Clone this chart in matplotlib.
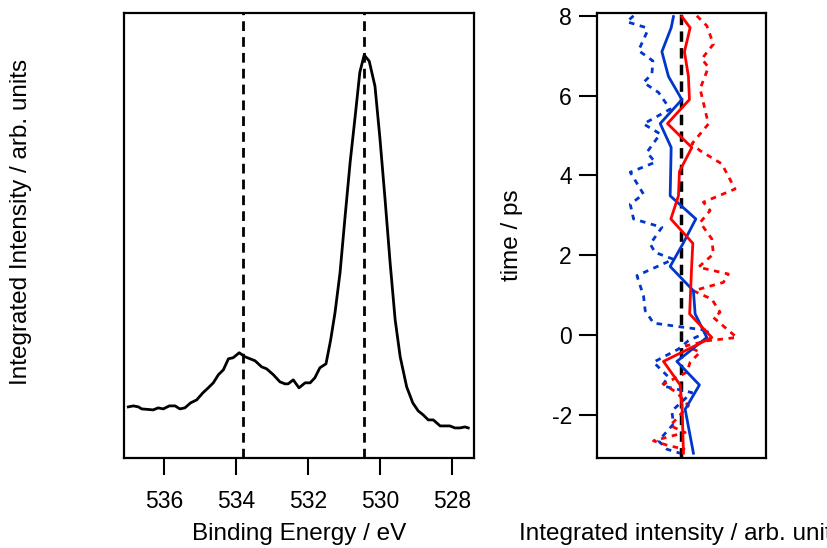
import numpy as np
import matplotlib.pyplot as plt

plt.rcParams['font.family'] = ['Liberation Sans', 'DejaVu Sans']
plt.rcParams['axes.unicode_minus'] = False

# --- XPS spectrum (left panel) ---
binding_energy = [536.99, 536.85, 536.71, 536.62, 536.30, 536.16, 536.02, 535.85, 535.69,
                  535.56, 535.42, 535.26, 535.09, 534.92, 534.77, 534.63, 534.49, 534.35,
                  534.21, 534.08, 533.91, 533.75, 533.47, 533.29, 533.15, 532.96, 532.78,
                  532.64, 532.55, 532.41, 532.25, 532.08, 531.94, 531.81, 531.67, 531.50,
                  531.37, 531.25, 531.11, 530.97, 530.83, 530.69, 530.56, 530.44, 530.30,
                  530.14, 530.00, 529.86, 529.72, 529.58, 529.44, 529.26, 529.09, 528.94,
                  528.80, 528.66, 528.52, 528.33, 528.06, 527.92, 527.78, 527.64, 527.55]
intensity = [0.51, 0.52, 0.51, 0.49, 0.48, 0.50, 0.49, 0.52, 0.52,
             0.49, 0.50, 0.55, 0.58, 0.65, 0.70, 0.75, 0.83, 0.88,
             0.99, 1.00, 1.05, 1.01, 0.97, 0.91, 0.89, 0.83, 0.76,
             0.74, 0.74, 0.78, 0.70, 0.75, 0.75, 0.80, 0.90, 0.94,
             1.18, 1.45, 1.85, 2.41, 2.95, 3.41, 3.85, 4.02, 3.96,
             3.71, 3.18, 2.58, 1.95, 1.38, 1.01, 0.71, 0.55, 0.47,
             0.43, 0.38, 0.38, 0.32, 0.32, 0.30, 0.30, 0.31, 0.30]
peak_positions = [533.8, 530.45]

# --- time traces (right panel) ---
t_solid = [7.98, 7.70, 7.10, 6.48, 5.90, 5.30, 4.70, 4.10, 3.49, 2.91, 2.30, 1.72,
           1.11, 0.53, -0.06, -0.66, -1.25, -1.86, -2.96]
blue_solid = [-0.074, -0.097, -0.19, -0.124, 0.01, -0.207, -0.097, -0.102, -0.107, 0.15,
              0.023, -0.107, 0.126, 0.143, 0.26, -0.04, 0.186, 0.043, 0.126]
red_solid = [0.01, 0.093, 0.036, 0.076, 0.086, -0.134, 0.11, -0.014, -0.024, -0.10,
             0.12, 0.108, 0.098, 0.088, 0.31, -0.174, -0.007, 0.013, 0.026]

t_blue_dot = [8.00, 7.85, 7.71, 7.59, 7.13, 6.87, 6.54, 6.33, 6.08, 5.66, 5.29, 5.04,
              4.58, 4.33, 4.08, 3.53, 3.28, 2.91, 2.70, 2.28, 2.07, 1.90, 1.49, 0.98,
              0.61, 0.30, 0.19, 0.11, -0.14, -0.35, -0.68, -1.05, -1.27, -1.44, -1.90,
              -2.23, -2.65, -2.86, -2.96]
blue_dot = [-0.474, -0.54, -0.357, -0.34, -0.424, -0.28, -0.29, -0.374, -0.224, -0.107,
            -0.374, -0.207, -0.34, -0.257, -0.507, -0.374, -0.507, -0.474, -0.19, -0.307,
            -0.257, -0.074, -0.44, -0.374, -0.357, -0.274, 0.043, 0.293, 0.076, -0.024,
            -0.274, -0.124, -0.19, 0.11, -0.09, -0.074, -0.224, -0.14, -0.007]

t_red_dot = [8.00, 7.75, 7.29, 6.92, 6.71, 6.17, 5.29, 4.79, 4.62, 4.29, 3.66, 3.33,
             3.12, 2.82, 2.53, 2.41, 2.03, 1.70, 1.53, 1.32, 1.11, 0.90, 0.57, 0.44,
             -0.06, -0.14, -0.27, -0.43, -0.68, -0.93, -1.23, -1.44, -1.77, -2.27,
             -2.44, -2.65, -2.77, -2.86]
red_dot = [0.16, 0.26, 0.326, 0.21, 0.276, 0.193, 0.276, 0.11, 0.193, 0.41, 0.543, 0.226,
           0.293, 0.193, 0.276, 0.31, 0.326, 0.176, 0.476, 0.426, 0.126, 0.31, 0.393, 0.326,
           0.56, 0.273, 0.053, 0.193, 0.093, 0.06, -0.174, -0.04, 0.076, -0.107,
           0.043, -0.274, -0.124, 0.043]

blue = '#0036cc'
red = '#ff0000'

fig = plt.figure(figsize=(8.28, 5.48), dpi=100)
ax1 = fig.add_axes([124/828, 90/548, 350/828, 445/548])
ax2 = fig.add_axes([597/828, 90/548, 169/828, 445/548])

# left panel
ax1.plot(binding_energy, intensity, color='black', lw=2)
for p in peak_positions:
    ax1.axvline(p, color='black', lw=2, linestyle=(0, (3.5, 2.2)))
ax1.set_xlim(537.11, 527.39)
ax1.set_ylim(0, 4.44)
ax1.set_yticks([])
ax1.set_xticks([536, 534, 532, 530, 528])
ax1.tick_params(axis='x', direction='out', length=12, width=1.5, pad=11, labelsize=16.5)
ax1.set_xlabel('Binding Energy / eV', fontsize=17.5)
ax1.xaxis.set_label_coords(0.5, -0.145)
ax1.set_ylabel('Integrated Intensity / arb. units', fontsize=17.5)
ax1.yaxis.set_label_coords(-0.262, 0.53)

# right panel
ax2.axvline(0, color='black', lw=2.5, linestyle=(0, (3, 1.8)))
ax2.plot(blue_dot, t_blue_dot, color=blue, lw=2, linestyle=(0, (2, 2)))
ax2.plot(red_dot, t_red_dot, color=red, lw=2, linestyle=(0, (2, 2)))
ax2.plot(blue_solid, t_solid, color=blue, lw=2)
ax2.plot(red_solid, t_solid, color=red, lw=2)
ax2.set_xlim(-0.84, 0.853)
ax2.set_ylim(-3.08, 8.07)
ax2.set_xticks([])
ax2.set_yticks([-2, 0, 2, 4, 6, 8])
ax2.tick_params(axis='y', direction='out', length=13, width=1.5, pad=5, labelsize=16.5)
ax2.set_ylabel('time / ps', fontsize=17.5)
ax2.yaxis.set_label_coords(-0.44, 0.5)
ax2.set_xlabel('Integrated intensity / arb. units', fontsize=17.5)
ax2.xaxis.set_label_coords(0.5, -0.145)

for ax in (ax1, ax2):
    for s in ax.spines.values():
        s.set_linewidth(1.6)

fig.savefig('out.png', dpi=100)
